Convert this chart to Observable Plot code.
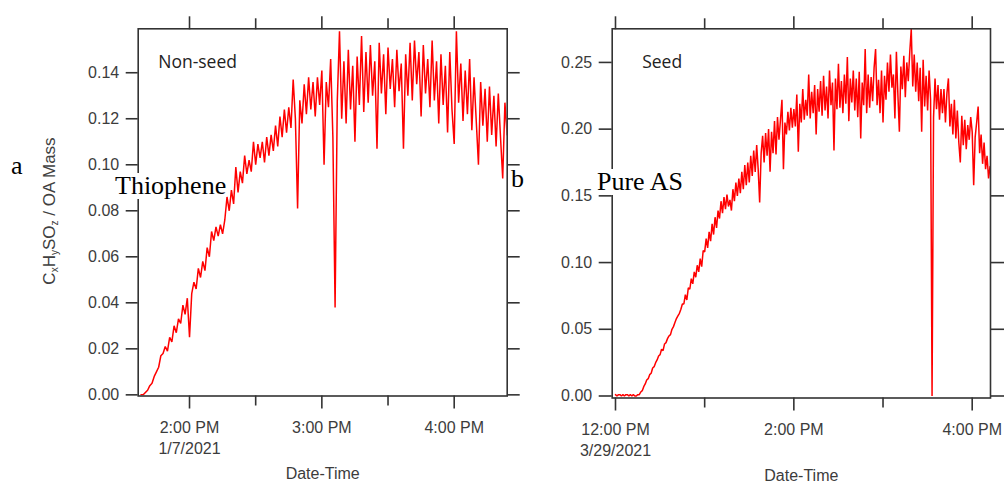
<!DOCTYPE html>
<html>
<head>
<meta charset="utf-8">
<script src="https://cdn.jsdelivr.net/npm/d3@7"></script>
<script src="https://cdn.jsdelivr.net/npm/@observablehq/plot@0.6"></script>
<style>
  html, body { margin: 0; padding: 0; background: #fff; }
  #wrap { position: relative; width: 1007px; height: 483px; overflow: hidden; }
  .pane { position: absolute; top: 0; }
  .serif { position: absolute; font-family: "Liberation Serif", "Times New Roman", serif; font-size: 26px; line-height: 1; color: #000; background: #fff; white-space: nowrap; }
  #ylab { position: absolute; left: 50px; top: 211px; transform: translate(-50%, -50%) rotate(-90deg); font-family: "Liberation Sans", Arial, sans-serif; font-size: 17px; color: #404040; white-space: nowrap; }
  #ylab sub { font-size: 10px; vertical-align: -3px; }
</style>
</head>
<body>
<div id="wrap">
  <div id="left" class="pane" style="left:0px"></div>
  <div id="right" class="pane" style="left:540px"></div>
  <div id="ylab">C<sub>x</sub>H<sub>y</sub>SO<sub>z</sub> / OA Mass</div>
  <div class="serif" style="left:11px; top:153px;">a</div>
  <div class="serif" style="left:115px; top:173px;">Thiophene</div>
  <div class="serif" style="left:511px; top:166px;">b</div>
  <div class="serif" style="left:597px; top:169px;">Pure AS</div>
</div>
<script>
// ---------- DATA ----------
// Non-seed (Thiophene), one reading per minute from 1:38 PM, 1/7/2021
const nonSeedStart = "2021-01-07T13:38:00Z";
const nonSeedValues = [
  0.000, 0.000, 0.001, 0.002, 0.004, 0.005, 0.008, 0.010, 0.012, 0.017,
  0.018, 0.021, 0.019, 0.025, 0.023, 0.030, 0.027, 0.033, 0.031, 0.039,
  0.035, 0.042, 0.025, 0.044, 0.049, 0.046, 0.055, 0.051, 0.058, 0.054,
  0.064, 0.060, 0.071, 0.067, 0.073, 0.069, 0.074, 0.070, 0.076, 0.086,
  0.080, 0.089, 0.083, 0.099, 0.088, 0.097, 0.092, 0.104, 0.096, 0.102,
  0.097, 0.110, 0.100, 0.109, 0.103, 0.110, 0.101, 0.112, 0.104, 0.113,
  0.106, 0.117, 0.108, 0.121, 0.112, 0.124, 0.114, 0.125, 0.116, 0.137,
  0.120, 0.081, 0.128, 0.118, 0.135, 0.122, 0.138, 0.124, 0.136, 0.121,
  0.138, 0.126, 0.141, 0.100, 0.136, 0.125, 0.146, 0.112, 0.038, 0.128,
  0.158, 0.120, 0.145, 0.118, 0.150, 0.124, 0.143, 0.110, 0.147, 0.126,
  0.156, 0.123, 0.149, 0.127, 0.152, 0.130, 0.145, 0.107, 0.153, 0.131,
  0.148, 0.122, 0.151, 0.133, 0.146, 0.125, 0.150, 0.132, 0.144, 0.107,
  0.148, 0.130, 0.153, 0.128, 0.154, 0.135, 0.149, 0.121, 0.152, 0.131,
  0.146, 0.125, 0.154, 0.128, 0.145, 0.118, 0.148, 0.126, 0.143, 0.114,
  0.149, 0.124, 0.109, 0.158, 0.127, 0.144, 0.119, 0.141, 0.122, 0.146,
  0.115, 0.138, 0.119, 0.100, 0.136, 0.117, 0.133, 0.110, 0.134, 0.113,
  0.130, 0.108, 0.131, 0.112, 0.094, 0.127, 0.113
];
// Seed (Pure AS), one reading per minute from 12:00 PM, 3/29/2021
const seedStart = "2021-03-29T12:00:00Z";
const seedValues = [
  0.001, 0.000, 0.001, 0.001, 0.000, 0.001, 0.000, 0.001, 0.001, 0.000,
  0.001, 0.000, 0.001, 0.000, 0.000, 0.001, 0.001, 0.003, 0.004, 0.007,
  0.009, 0.012, 0.013, 0.016, 0.017, 0.021, 0.022, 0.025, 0.027, 0.030,
  0.031, 0.035, 0.034, 0.039, 0.040, 0.043, 0.045, 0.046, 0.050, 0.052,
  0.055, 0.058, 0.060, 0.062, 0.065, 0.069, 0.069, 0.076, 0.072, 0.081,
  0.080, 0.088, 0.084, 0.093, 0.089, 0.098, 0.093, 0.103, 0.097, 0.109,
  0.108, 0.118, 0.111, 0.123, 0.116, 0.129, 0.121, 0.134, 0.126, 0.139,
  0.133, 0.146, 0.137, 0.149, 0.140, 0.151, 0.142, 0.147, 0.139, 0.155,
  0.146, 0.160, 0.150, 0.163, 0.152, 0.168, 0.155, 0.173, 0.158, 0.175,
  0.160, 0.180, 0.165, 0.184, 0.168, 0.188, 0.170, 0.145, 0.182, 0.195,
  0.175, 0.197, 0.180, 0.200, 0.168, 0.198, 0.182, 0.206, 0.181, 0.209,
  0.192, 0.207, 0.222, 0.170, 0.205, 0.196, 0.213, 0.199, 0.216, 0.201,
  0.215, 0.202, 0.226, 0.183, 0.219, 0.205, 0.230, 0.207, 0.222, 0.210,
  0.241, 0.208, 0.228, 0.212, 0.233, 0.196, 0.230, 0.213, 0.236, 0.210,
  0.240, 0.214, 0.232, 0.208, 0.244, 0.218, 0.235, 0.184, 0.238, 0.215,
  0.249, 0.216, 0.236, 0.212, 0.241, 0.219, 0.254, 0.206, 0.238, 0.220,
  0.244, 0.214, 0.238, 0.209, 0.243, 0.193, 0.235, 0.218, 0.260, 0.212,
  0.241, 0.216, 0.239, 0.221, 0.246, 0.260, 0.218, 0.237, 0.212, 0.244,
  0.205, 0.240, 0.222, 0.250, 0.228, 0.256, 0.231, 0.241, 0.208, 0.258,
  0.226, 0.198, 0.247, 0.230, 0.255, 0.224, 0.250, 0.236, 0.258, 0.275,
  0.232, 0.256, 0.228, 0.250, 0.221, 0.246, 0.198, 0.252, 0.217, 0.240,
  0.214, 0.244, 0.222, 0.000, 0.209, 0.238, 0.215, 0.233, 0.207, 0.230,
  0.212, 0.230, 0.205, 0.227, 0.238, 0.202, 0.219, 0.196, 0.222, 0.193,
  0.214, 0.190, 0.175, 0.210, 0.188, 0.207, 0.185, 0.203, 0.192, 0.209,
  0.198, 0.158, 0.194, 0.205, 0.217, 0.182, 0.196, 0.174, 0.190, 0.170,
  0.180, 0.163, 0.172
];
const stepMinutes = 1;

// axis domains and ticks
const nonSeedXDomain = ["2021-01-07T13:36:44Z", "2021-01-07T16:24:02Z"];
const nonSeedYDomain = [-0.0005, 0.1591];
const nonSeedYTicks = [0, 0.02, 0.04, 0.06, 0.08, 0.10, 0.12, 0.14];
const nonSeedMajor = ["2021-01-07T14:00:00Z", "2021-01-07T15:00:00Z", "2021-01-07T16:00:00Z"];
const nonSeedMinor = ["2021-01-07T14:30:00Z", "2021-01-07T15:30:00Z"];
const nonSeedDate = "1/7/2021";
const nonSeedTag = "Non-seed";

const seedXDomain = ["2021-03-29T11:57:47Z", "2021-03-29T16:12:19Z"];
const seedYDomain = [-0.0015, 0.2752];
const seedYTicks = [0, 0.05, 0.10, 0.15, 0.20, 0.25];
const seedMajor = ["2021-03-29T12:00:00Z", "2021-03-29T14:00:00Z", "2021-03-29T16:00:00Z"];
const seedMinor = ["2021-03-29T13:00:00Z", "2021-03-29T15:00:00Z"];
const seedDate = "3/29/2021";
const seedTag = "Seed";

const xTitle = "Date-Time";

// ---------- DRAW ----------
const INK = "#333";
const TXT = "#3c3c3c";

function toSeries(start, values) {
  const t0 = new Date(start).getTime();
  return values.map((v, i) => ({ t: new Date(t0 + i * stepMinutes * 60000), v }));
}

function timeLabel(d, first, dateLine) {
  let h = d.getUTCHours();
  const ap = h >= 12 ? "PM" : "AM";
  h = h % 12 || 12;
  const s = `${h}:${String(d.getUTCMinutes()).padStart(2, "0")} ${ap}`;
  return first ? s + "\n" + dateLine : s;
}

function panel(o) {
  const data = toSeries(o.start, o.values);
  const majors = o.major.map(s => new Date(s));
  const minors = o.minor.map(s => new Date(s));
  const first = majors[0].getTime();
  return Plot.plot({
    width: o.width,
    height: 483,
    marginLeft: o.marginLeft,
    marginRight: o.marginRight,
    marginTop: 28.3,
    marginBottom: o.marginBottom,
    style: { fontFamily: "'Liberation Sans', Arial, sans-serif", fontSize: "16px", color: TXT, background: "#fff", overflow: "visible" },
    x: { type: "utc", domain: o.xDomain.map(s => new Date(s)) },
    y: { domain: o.yDomain },
    marks: [
      Plot.lineY(data, { x: "t", y: "v", stroke: "#ff0000", strokeWidth: 1.5, strokeLinejoin: "miter", clip: true }),
      Plot.frame({ stroke: INK, strokeWidth: 1.6 }),
      Plot.axisY({ ticks: o.yTicks, anchor: "left", tickSize: o.ytick, tickPadding: 7, tickFormat: d3.format(".2f"), label: null, stroke: INK, fill: TXT, strokeWidth: 1.6, fontSize: 16 }),
      Plot.axisY({ ticks: o.yTicks, anchor: "right", tickSize: o.ytick, tickFormat: () => "", label: null, stroke: INK, strokeWidth: 1.6 }),
      Plot.axisX({ ticks: majors, anchor: "bottom", tickSize: 13, tickPadding: 9, lineHeight: 1.33, tickFormat: d => timeLabel(d, d.getTime() === first, o.date), label: null, stroke: INK, fill: TXT, strokeWidth: 1.6, fontSize: 16 }),
      Plot.axisX({ ticks: minors, anchor: "bottom", tickSize: 10, tickFormat: () => "", label: null, stroke: INK, strokeWidth: 1.6 }),
      Plot.axisX({ ticks: majors, anchor: "top", tickSize: 13, tickFormat: () => "", label: null, stroke: INK, strokeWidth: 1.6 }),
      Plot.axisX({ ticks: minors, anchor: "top", tickSize: 11, tickFormat: () => "", label: null, stroke: INK, strokeWidth: 1.6 }),
      Plot.text([o.tag], { frameAnchor: "top-left", dx: o.tagDx, dy: 33.7, text: d => d, textAnchor: "start", lineAnchor: "middle", fontFamily: "'Open Sans', sans-serif", fontSize: 17.5, fill: "#222" }),
      Plot.text([xTitle], { frameAnchor: "bottom", dy: 77.5, text: d => d, lineAnchor: "middle", fontSize: 16, fill: TXT })
    ]
  });
}

document.getElementById("left").append(panel({
  start: nonSeedStart, values: nonSeedValues, width: 540,
  marginLeft: 137.7, marginRight: 33.3, marginBottom: 87.5,
  xDomain: nonSeedXDomain, yDomain: nonSeedYDomain, yTicks: nonSeedYTicks,
  major: nonSeedMajor, minor: nonSeedMinor, date: nonSeedDate,
  tag: nonSeedTag, tagDx: 20, ytick: 12
}));
document.getElementById("right").append(panel({
  start: seedStart, values: seedValues, width: 467,
  marginLeft: 71.7, marginRight: 17, marginBottom: 85.5,
  xDomain: seedXDomain, yDomain: seedYDomain, yTicks: seedYTicks,
  major: seedMajor, minor: seedMinor, date: seedDate,
  tag: seedTag, tagDx: 30, ytick: 13
}));
</script>
</body>
</html>
